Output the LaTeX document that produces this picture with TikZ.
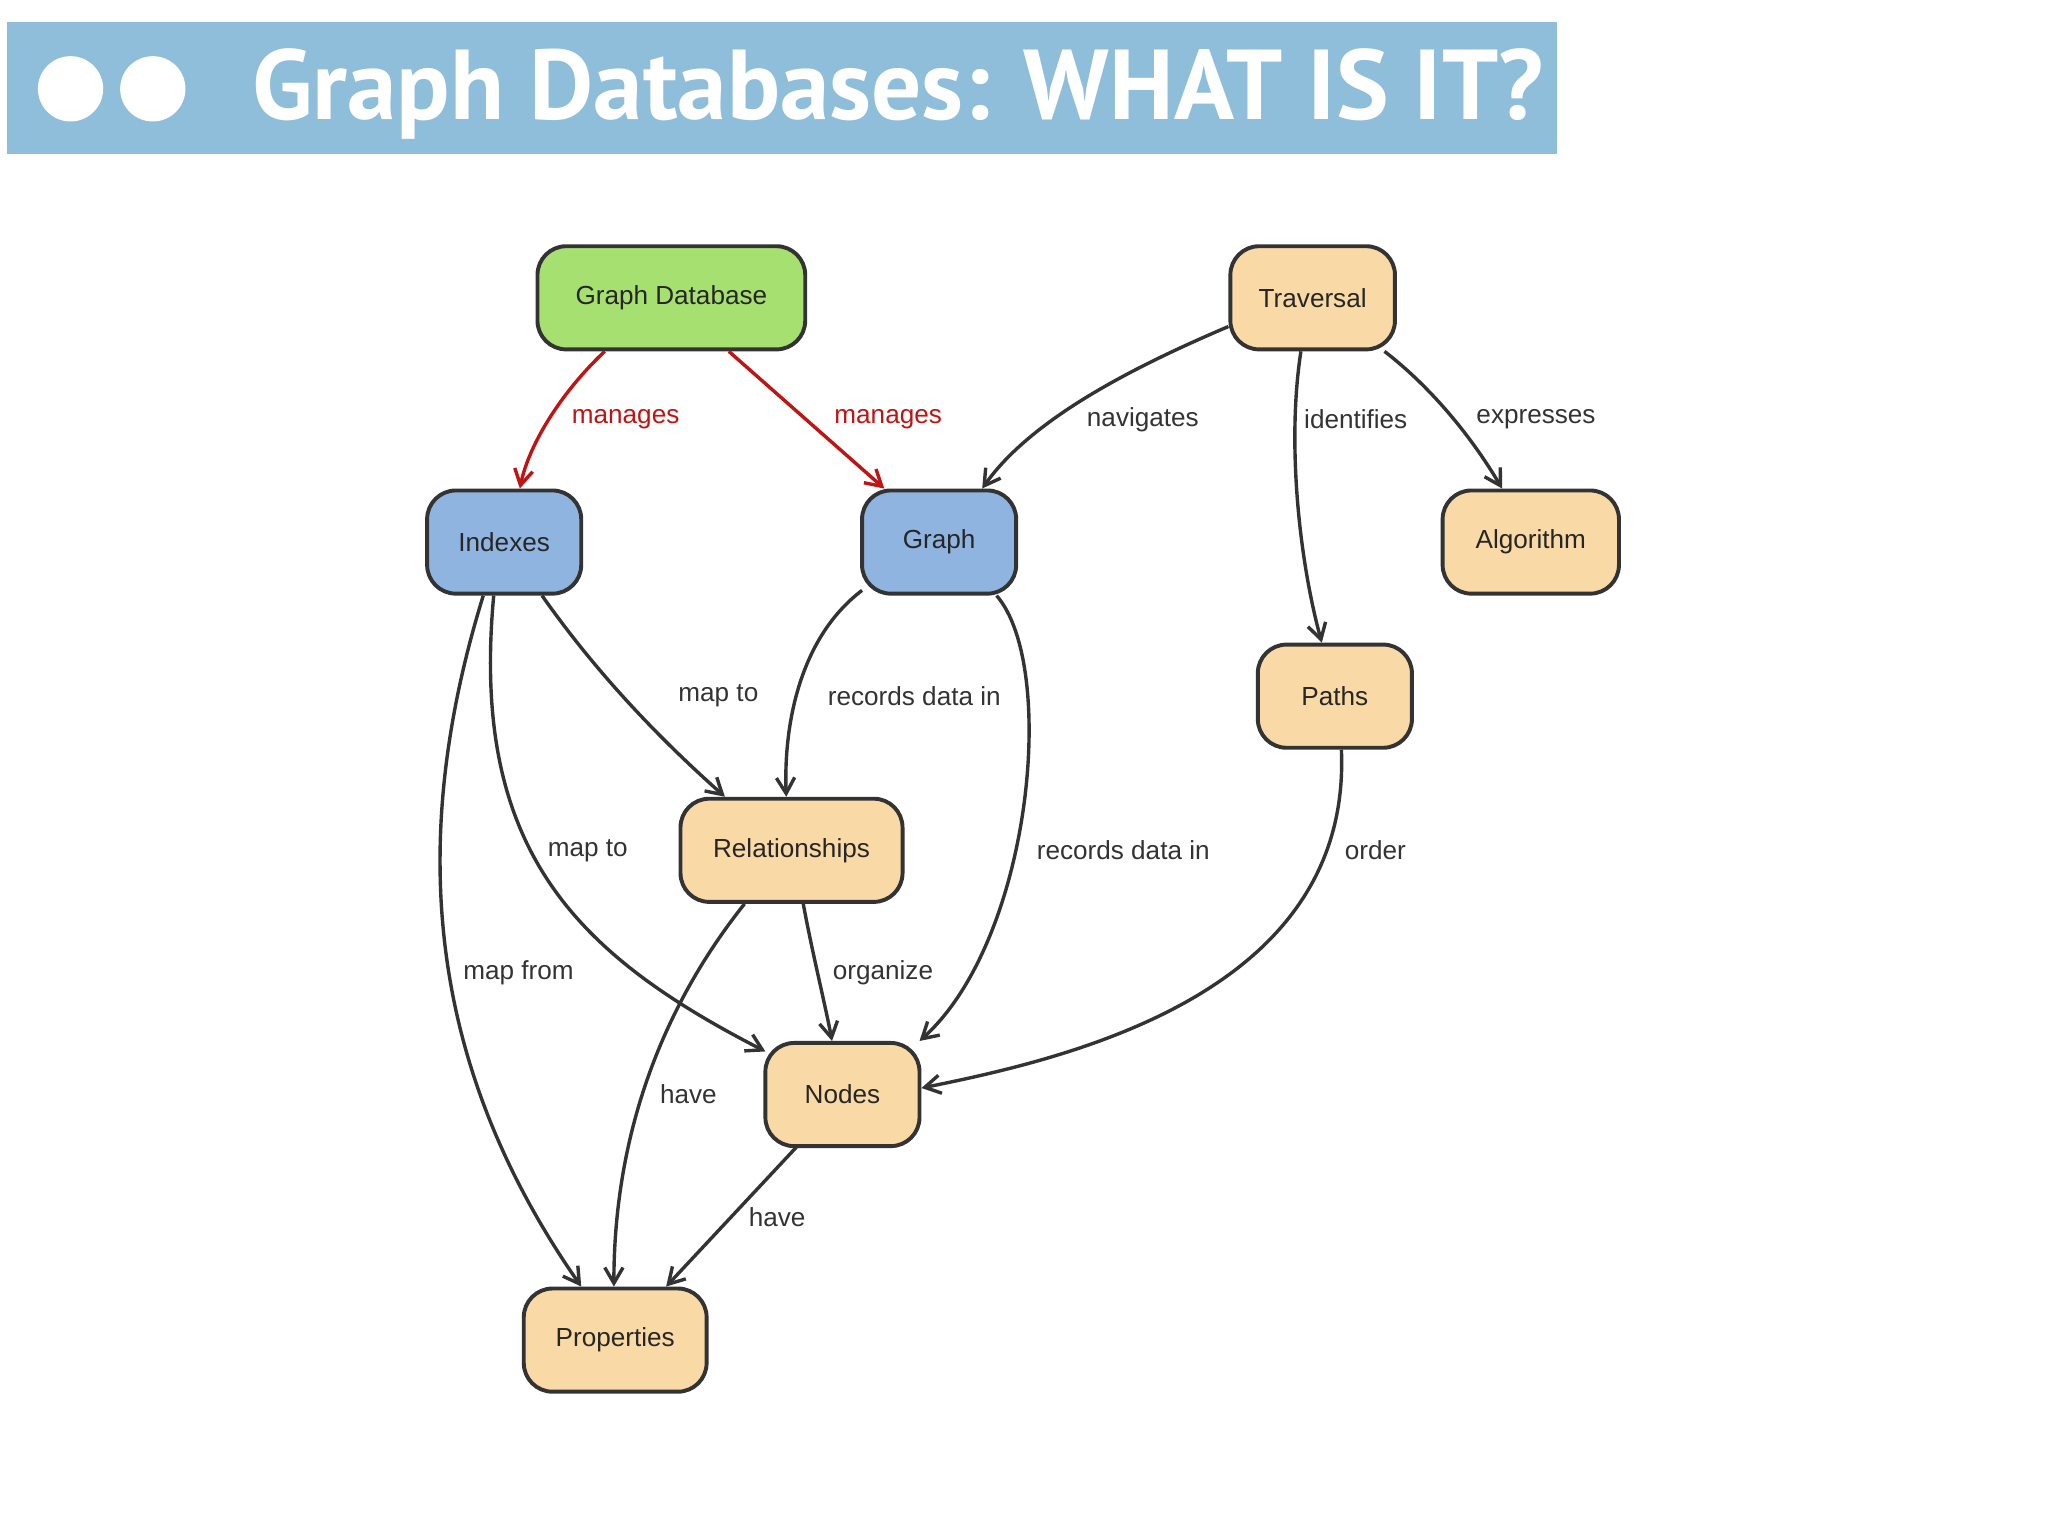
\documentclass[tikz,border=0pt]{standalone}
\usepackage{fontspec}
\setmainfont{Liberation Sans}
\newfontfamily\titlefont{PT Sans}
\usetikzlibrary{arrows.meta}
\definecolor{hdr}{RGB}{143,190,218}
\definecolor{gfill}{RGB}{166,224,112}
\definecolor{bfill}{RGB}{143,180,224}
\definecolor{ofill}{RGB}{249,217,166}
\definecolor{edge}{RGB}{51,51,51}
\definecolor{redge}{RGB}{190,20,20}
\tikzset{
  box/.style={draw=edge, line width=3pt, rounded corners=22pt, minimum height=79pt, font=\fontsize{20}{24}\selectfont, text=black!85, inner sep=0pt},
  conn/.style={draw=edge, line width=2.6pt, -{Straight Barb[length=12pt,width=14pt,line width=2.6pt]}},
  rconn/.style={conn, draw=redge},
  lbl/.style={font=\fontsize{20}{24}\selectfont, text=black!80},
  rlbl/.style={lbl, text=redge}
}
\begin{document}
\begin{tikzpicture}[x=1pt,y=-1pt]
\useasboundingbox (0,0) rectangle (1568,1176);
\fill[white] (0,0) rectangle (1568,1176);
\fill[hdr] (5,17) rectangle (1192,118);
\fill[white] (54,68) circle (25);
\fill[white] (117,68) circle (25);
\node[anchor=west, text=white, font=\titlefont\bfseries\fontsize{76}{80}\selectfont, inner sep=0] (title) at (193,72) {Graph Databases: WHAT IS IT?};

\node[box, fill=gfill, minimum width=205pt] (gd) at (514,228) {Graph Database};
\node[box, fill=ofill, minimum width=126pt] (trv) at (1005,228) {Traversal};
\node[box, fill=bfill, minimum width=118pt] (idx) at (386,415) {Indexes};
\node[box, fill=bfill, minimum width=118pt] (gr) at (719,415) {Graph};
\node[box, fill=ofill, minimum width=135pt] (alg) at (1172,415) {Algorithm};
\node[box, fill=ofill, minimum width=118pt] (paths) at (1022,533) {Paths};
\node[box, fill=ofill, minimum width=170pt] (rel) at (606,651) {Relationships};
\node[box, fill=ofill, minimum width=118pt] (nodes) at (645,838) {Nodes};
\node[box, fill=ofill, minimum width=140pt] (prop) at (471,1026) {Properties};

\draw[rconn] ([xshift=-51pt]gd.south) .. controls (430,300) and (405,340) .. ([xshift=12pt]idx.north);
\draw[rconn] ([xshift=44pt]gd.south) -- ([xshift=-42pt]gr.north);
\draw[conn] ([yshift=-22pt]trv.west) .. controls (870,280) and (790,320) .. ([xshift=33pt]gr.north);
\draw[conn] ([xshift=-9pt]trv.south) .. controls (985,340) and (995,430) .. ([xshift=-10pt]paths.north);
\draw[conn] ([xshift=55pt]trv.south) .. controls (1100,300) and (1130,340) .. ([xshift=-22pt]alg.north);
\draw[conn] ([xshift=29pt]idx.south) .. controls (460,520) and (510,570) .. ([xshift=-51pt]rel.north);
\draw[conn] ([xshift=-59pt,yshift=-37pt]gr.center) .. controls (610,490) and (600,560) .. ([xshift=-4pt]rel.north);
\draw[conn] ([xshift=44pt]gr.south) .. controls (810,510) and (790,720) .. ([xshift=59pt]nodes.north);
\draw[conn] ([xshift=5pt]paths.south) .. controls (1035,760) and (820,810) .. ([yshift=5pt]nodes.east);
\draw[conn] ([xshift=-8pt]idx.south) .. controls (360,650) and (440,730) .. ([xshift=-59pt,yshift=33pt]nodes.center);
\draw[conn] ([xshift=-16pt]idx.south) .. controls (310,650) and (330,820) .. ([xshift=-26pt]prop.north);
\draw[conn] ([xshift=9pt]rel.south) .. controls (622,730) and (632,770) .. ([xshift=-8pt]nodes.north);
\draw[conn] ([xshift=-36pt]rel.south) .. controls (500,780) and (470,880) .. ([xshift=-1pt]prop.north);
\draw[conn] ([xshift=-35pt,yshift=-40pt]nodes.center) -- ([xshift=39pt]prop.north);

\node[rlbl] (l1) at (479,321) {manages};
\node[rlbl] (l2) at (680,321) {manages};
\node[lbl] (l3) at (875,321) {navigates};
\node[lbl] (l4) at (1038,321) {identifies};
\node[lbl] (l5) at (1176,321) {expresses};
\node[lbl] (l6) at (550,533) {map to};
\node[lbl] (l7) at (700,533) {records data in};
\node[lbl] (l8) at (860,651) {records data in};
\node[lbl] (l9) at (1053,651) {order};
\node[lbl] (l10) at (450,651) {map to};
\node[lbl] (l11) at (397,745) {map from};
\node[lbl] (l12) at (676,745) {organize};
\node[lbl] (l13) at (527,838) {have};
\node[lbl] (l14) at (595,932) {have};
\end{tikzpicture}
\end{document}
